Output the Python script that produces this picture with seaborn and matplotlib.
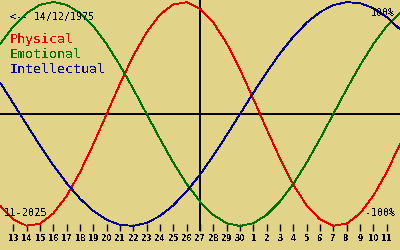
import matplotlib
matplotlib.use("Agg")
import matplotlib.pyplot as plt
import numpy as np
import pandas as pd
import seaborn as sns

# Days shown (12 Nov 2025 .. 12 Dec 2025), one value per day
days = [12, 13, 14, 15, 16, 17, 18, 19, 20, 21, 22, 23, 24, 25, 26, 27, 28, 29, 30,
        1, 2, 3, 4, 5, 6, 7, 8, 9, 10, 11, 12]
physical = [-0.817, -0.942, -0.998, -0.979, -0.888, -0.731, -0.520, -0.270, 0.000,
            0.270, 0.520, 0.731, 0.888, 0.979, 0.998, 0.942, 0.817, 0.631, 0.398,
            0.136, -0.136, -0.398, -0.631, -0.817, -0.942, -0.998, -0.979, -0.888,
            -0.731, -0.520, -0.270]
emotional = [0.624, 0.782, 0.901, 0.975, 1.000, 0.975, 0.901, 0.782, 0.624, 0.434,
             0.223, 0.000, -0.223, -0.434, -0.624, -0.782, -0.901, -0.975, -1.000,
             -0.975, -0.901, -0.782, -0.624, -0.434, -0.223, 0.000, 0.223, 0.434,
             0.624, 0.782, 0.901]
intellectual = [0.282, 0.095, -0.095, -0.282, -0.458, -0.618, -0.756, -0.866, -0.945,
                -0.990, -0.999, -0.972, -0.910, -0.815, -0.690, -0.541, -0.372, -0.189,
                0.000, 0.189, 0.372, 0.541, 0.690, 0.815, 0.910, 0.972, 0.999, 0.990,
                0.945, 0.866, 0.756]
tick_labels = [str(d) for d in days[1:-1]]
series_names = ["Physical", "Emotional", "Intellectual"]
birth_label = "<-- 14/12/1975"
month_label = "11-2025"

bg = "#E1D387"
colors = {"Physical": "#E00000", "Emotional": "#007000", "Intellectual": "#000090"}

sns.set_style("white")
plt.rcParams["text.antialiased"] = False

pos = list(range(len(days)))
df = pd.DataFrame({
    "pos": pos * 3,
    "value": physical + emotional + intellectual,
    "series": sum([[n] * len(days) for n in series_names], []),
})

W, H = 400, 250
fig = plt.figure(figsize=(W / 100, H / 100), dpi=100, facecolor=bg)
ax_h = 231
ax = fig.add_axes([0, 1 - ax_h / H, 1, ax_h / H])
ax.set_facecolor(bg)

ax.axhline(0, color="black", lw=1.4, zorder=1)
ax.axvline(15, color="black", lw=1.4, zorder=1)

sns.lineplot(data=df, x="pos", y="value", hue="series", palette=colors,
             hue_order=series_names, legend=False, ax=ax, linewidth=0.6,
             antialiased=False, zorder=3)

ax.set_xlim(0, len(days) - 1)
ax.set_ylim(1.0179 - ax_h / 112, 1.0179)
ax.set_xticks(pos[1:-1])
ax.set_xticklabels(tick_labels, fontsize=5.5, fontweight="bold", family="DejaVu Sans")
ax.tick_params(axis="x", direction="in", length=4.8, width=1.0, pad=2.5,
               colors="black", bottom=True)
ax.set_yticks([])
ax.set_xlabel("")
ax.set_ylabel("")
for s in ax.spines.values():
    s.set_visible(False)

mono = "DejaVu Sans Mono"
def ftext(x, y, s, **kw):
    fig.text(x / W, 1 - y / H, s, family=mono, va="baseline", **kw)

ftext(10, 20, birth_label, fontsize=7.2, color="black")
ftext(10, 43, series_names[0], fontsize=9.5, color=colors["Physical"])
ftext(10, 58, series_names[1], fontsize=9.5, color=colors["Emotional"])
ftext(10, 73, series_names[2], fontsize=9.5, color=colors["Intellectual"])
ftext(4, 216, month_label, fontsize=7.5, color="black")
ftext(395, 16, "100%", fontsize=7.2, color="black", ha="right")
ftext(395, 216, "-100%", fontsize=7.2, color="black", ha="right")

fig.savefig("out.png", dpi=100, facecolor=bg)
